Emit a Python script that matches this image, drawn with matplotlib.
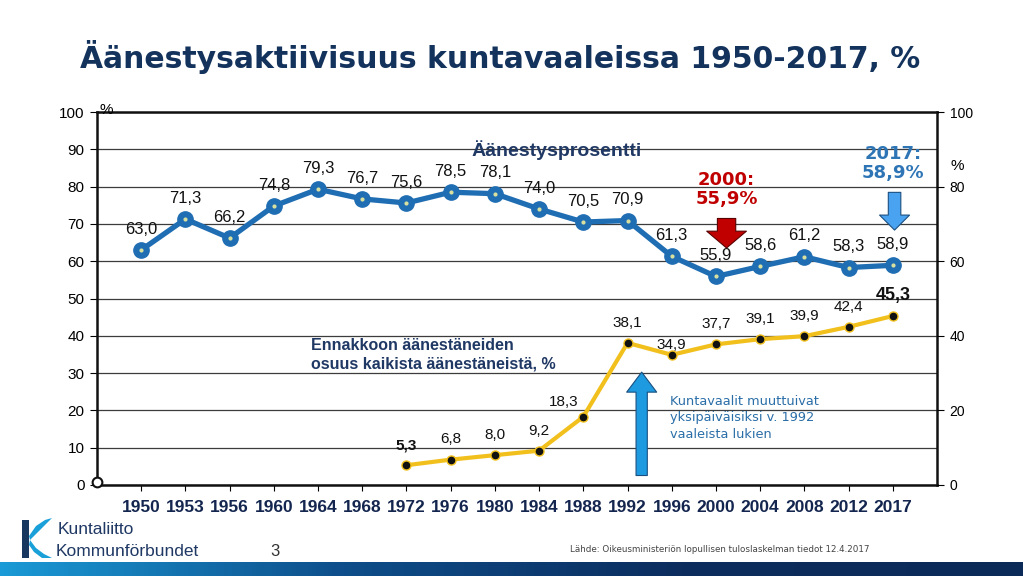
import numpy as np
import matplotlib
matplotlib.use('Agg')
import matplotlib.pyplot as plt
from matplotlib.patches import Polygon
from matplotlib.colors import LinearSegmentedColormap

years = ['1950', '1953', '1956', '1960', '1964', '1968', '1972', '1976', '1980',
         '1984', '1988', '1992', '1996', '2000', '2004', '2008', '2012', '2017']
turnout = [63.0, 71.3, 66.2, 74.8, 79.3, 76.7, 75.6, 78.5, 78.1,
           74.0, 70.5, 70.9, 61.3, 55.9, 58.6, 61.2, 58.3, 58.9]
advance_years = years[6:]
advance = [5.3, 6.8, 8.0, 9.2, 18.3, 38.1, 34.9, 37.7, 39.1, 39.9, 42.4, 45.3]

NAVY = '#13325c'
BLUE = '#1f6db3'
GOLD = '#f2c01c'


def fmt(v):
    return f'{v:.1f}'.replace('.', ',')


plt.rcParams['font.family'] = ['Liberation Sans', 'DejaVu Sans']

fig = plt.figure(figsize=(10.23, 5.76), dpi=100)
ax = fig.add_axes([97 / 1023, 1 - 485 / 576, 840 / 1023, 373 / 576])

x = np.arange(len(years))
xa = np.array([years.index(y) for y in advance_years])

ax.set_xlim(-1, len(years))
ax.set_ylim(0, 100)
ax.set_yticks(range(0, 101, 10))
ax.grid(axis='y', color='#3c3c3c', lw=0.9)
ax.set_axisbelow(True)
for s in ax.spines.values():
    s.set_linewidth(1.8)
    s.set_color('#111111')
ax.set_xticks(x)
ax.set_xticklabels(years, fontsize=12.5, fontweight='bold', color='#14264f')
ax.tick_params(axis='x', length=4, pad=7)
ax.tick_params(axis='y', length=5, labelsize=11, pad=4)

ax2 = ax.twinx()
ax2.set_ylim(0, 100)
ax2.set_yticks(range(0, 101, 20))
ax2.tick_params(axis='y', length=5, labelsize=10, pad=4)
ax2.spines[:].set_visible(False)

# turnout line
ax.plot(x, turnout, color=BLUE, lw=3.8, marker='o', ms=11,
        mfc=BLUE, mec=BLUE, zorder=4, clip_on=False)
ax.plot(x, turnout, ls='none', marker='o', ms=3, mfc='#d8e0a0',
        mec='none', zorder=5)
for xi, v in zip(x, turnout):
    ax.annotate(fmt(v), (xi, v), xytext=(0, 15), textcoords='offset points',
                ha='center', va='center', fontsize=12, color='#111111')

# advance voting line
ax.plot(xa, advance, color=GOLD, lw=3, marker='o', ms=6.5,
        mfc='#111111', mec=GOLD, mew=1, zorder=4)
for xi, v in zip(xa, advance):
    dx, dy = 0, 14.5
    if v == 34.9:
        dy = 7
    elif v == 18.3:
        dx, dy = -14, 10.5
    big = v in (5.3, 45.3)
    ax.annotate(fmt(v), (xi, v), xytext=(dx, dy), textcoords='offset points',
                ha='center', va='center',
                fontsize=13 if v == 45.3 else 11,
                fontweight='bold' if big else 'normal', color='#111111')

# texts
ax.text(9.39, 89.8, 'Äänestysprosentti', ha='center', va='center',
        fontsize=14, fontweight='bold', color='#1f3864')
ax.text(3.85, 34.9, 'Ennakkoon äänestäneiden\nosuus kaikista äänestäneistä, %',
        ha='left', va='center', fontsize=11.5, fontweight='bold',
        color='#1f3864', linespacing=1.25)
ax.text(11.97, 18, 'Kuntavaalit muuttuivat\nyksipäiväisiksi v. 1992\nvaaleista lukien',
        ha='left', va='center', fontsize=9.3, color='#2a6ea8',
        family='DejaVu Sans', linespacing=1.35)
ax.text(13.24, 79.3, '2000:\n55,9%', ha='center', va='center', fontsize=13,
        fontweight='bold', color='#c00000', family='DejaVu Sans',
        linespacing=1.05)
ax.text(17.0, 86.2, '2017:\n58,9%', ha='center', va='center', fontsize=13,
        fontweight='bold', color='#2e75b6', family='DejaVu Sans',
        linespacing=1.05)

# arrows
ax.annotate('', xy=(11.32, 31.0), xytext=(11.32, 1.8),
            arrowprops=dict(arrowstyle='simple,head_length=0.8,head_width=1.2,tail_width=0.45',
                            mutation_scale=18, fc='#1e9be0', ec='#1a4f80', lw=0.8),
            zorder=3)
ax.annotate('', xy=(13.24, 62.8), xytext=(13.24, 72.2),
            arrowprops=dict(arrowstyle='simple,head_length=0.55,head_width=1.3,tail_width=0.6',
                            mutation_scale=22, fc='#c00000', ec='#5a0000', lw=0.8),
            zorder=3)
ax.annotate('', xy=(17.04, 67.6), xytext=(17.04, 79.2),
            arrowprops=dict(arrowstyle='simple,head_length=0.6,head_width=1.2,tail_width=0.5',
                            mutation_scale=18, fc='#4aa3f0', ec='#1a4f80', lw=0.8),
            zorder=3)

ax.plot([-1], [0.9], marker='o', ms=7, mfc='white', mec='#111111', mew=1.5,
        clip_on=False, zorder=6)

fig.text(99 / 1023, 1 - 110 / 576, '%', fontsize=11, ha='left', va='center')
fig.text(957 / 1023, 1 - 166 / 576, '%', fontsize=11, ha='center', va='center')

# title
fig.text(500 / 1023, 1 - 57 / 576,
         'Äänestysaktiivisuus kuntavaaleissa 1950-2017, %',
         ha='center', va='center', fontsize=21.5, fontweight='bold',
         color=NAVY, family='DejaVu Sans')

# footer
fig.text(275 / 1023, 1 - 551 / 576, '3', fontsize=12, ha='center',
         va='center', color='#333333')
fig.text(570 / 1023, 1 - 550 / 576,
         'Lähde: Oikeusministeriön lopullisen tuloslaskelman tiedot 12.4.2017',
         fontsize=6.3, ha='left', va='center', color='#444444',
         family='DejaVu Sans')
fig.text(58 / 1023, 1 - 530 / 576, 'Kuntaliitto', fontsize=12.5,
         ha='left', va='center', color='#1f3864')
fig.text(56 / 1023, 1 - 551 / 576, 'Kommunförbundet', fontsize=12.5,
         ha='left', va='center', color='#1f3864')

logo = fig.add_axes([0, 0, 1, 1], zorder=-1)
logo.set_xlim(0, 1023)
logo.set_ylim(576, 0)
logo.axis('off')
logo.add_patch(Polygon([(22, 520), (29, 520), (29, 558), (22, 558)],
                       closed=True, fc='#17375e', ec='none'))
logo.add_patch(Polygon([(29, 536), (36, 526), (45, 520), (52, 518),
                        (44, 526), (36, 534), (30, 540)],
                       closed=True, fc='#1aa0d8', ec='none'))
logo.add_patch(Polygon([(30, 540), (36, 548), (44, 554), (52, 558),
                        (42, 558), (34, 552), (29, 545)],
                       closed=True, fc='#1aa0d8', ec='none'))

band = fig.add_axes([0, 0, 1, 14 / 576])
grad = np.linspace(0, 1, 256).reshape(1, -1)
cmap = LinearSegmentedColormap.from_list('band', ['#1a9ad6', '#0e4e8a', '#0c2d5e', '#0c2a58'])
band.imshow(grad, aspect='auto', cmap=cmap, extent=[0, 1, 0, 1])
band.axis('off')

fig.savefig('out.png', dpi=100)
